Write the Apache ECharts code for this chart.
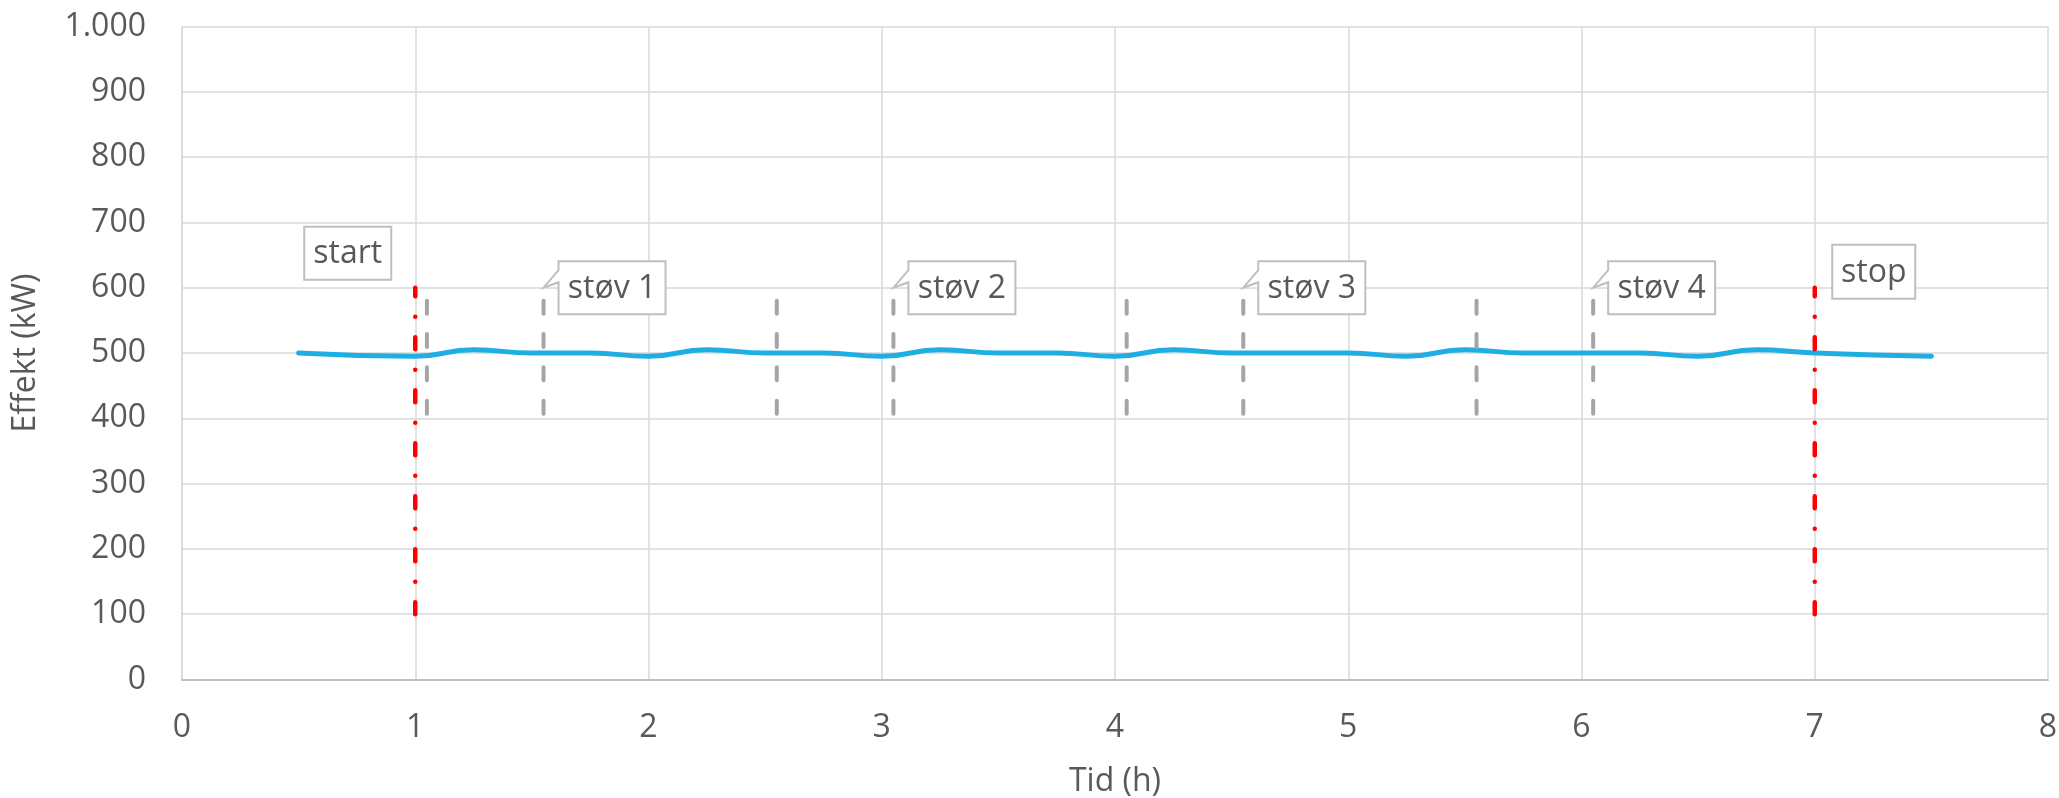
<!DOCTYPE html>
<html><head><meta charset="utf-8">
<script src="https://cdn.jsdelivr.net/npm/echarts@6/dist/echarts.min.js"></script>
<style>html,body{margin:0;padding:0;background:#fff}#c{width:2059px;height:798px}</style>
</head><body><div id="c"></div>
<script>
// ---- data ----
const timeH    = [0.5, 1, 1.25, 1.5, 1.75, 2, 2.25, 2.5, 2.75, 3, 3.25, 3.5, 3.75, 4, 4.25, 4.5, 4.75, 5, 5.25, 5.5, 5.75, 6, 6.25, 6.5, 6.75, 7, 7.5];
const effektKW = [500, 495, 505, 500, 500, 495, 505, 500, 500, 495, 505, 500, 500, 495, 505, 500, 500, 500, 495, 505, 500, 500, 500, 495, 505, 500, 495];
const startStopX = [1, 7];
const startStopRange = [100, 600];
const stovX = [1.05, 1.55, 2.55, 3.05, 4.05, 4.55, 5.55, 6.05];
const stovRange = [580, 400];
const calloutText = ['start', 'støv 1', 'støv 2', 'støv 3', 'støv 4', 'stop'];
const calloutX = [1, 1.55, 3.05, 4.55, 6.05, 7];
const calloutY = [600, 600, 600, 600, 600, 600];
const xAxisName = 'Tid (h)';
const yAxisName = 'Effekt (kW)';

// ---- layout / style ----
const calloutKind = ['left', 'tail', 'tail', 'tail', 'tail', 'right'];
const FONT = '"Open Sans", sans-serif';
const TXT = '#595959';
const ctx = document.createElement('canvas').getContext('2d');
ctx.font = '32px "Open Sans"';
const tw = s => ctx.measureText(s).width;

function renderCallout(params, api) {
  const i = api.value(2);
  const p = api.coord([api.value(0), api.value(1)]);
  const txt = calloutText[i];
  const w = Math.round(tw(txt) + 18);
  const kind = calloutKind[i];
  let L, T, H, pts;
  if (kind === 'tail') {
    L = p[0] + 15; T = p[1] - 26.5; H = 53;
    pts = [[L, T], [L + w, T], [L + w, T + H], [L, T + H], [L, T + 21], [p[0], p[1]], [L, T + 9]];
  } else {
    if (kind === 'left') { H = 53; L = p[0] - 24 - w; T = p[1] - 61; }
    else { H = 54; L = p[0] + 17.5; T = p[1] - 43; }
    pts = [[L, T], [L + w, T], [L + w, T + H], [L, T + H]];
  }
  return {
    type: 'group',
    children: [
      { type: 'polygon', shape: { points: pts }, style: { fill: '#fff', stroke: '#BFBFBF', lineWidth: 2 } },
      { type: 'text', style: { text: txt, x: L + w / 2, y: T + H / 2 + 1, align: 'center', verticalAlign: 'middle',
          fontSize: 32, fontFamily: FONT, fill: TXT } }
    ]
  };
}

const chart = echarts.init(document.getElementById('c'));
chart.setOption({
  animation: false,
  backgroundColor: '#fff',
  textStyle: { fontFamily: FONT },
  grid: { left: 182, right: 11, top: 26.5, bottom: 118.5, containLabel: false, outerBoundsMode: 'none' },
  xAxis: {
    type: 'value', min: 0, max: 8, interval: 1,
    name: xAxisName, nameLocation: 'middle', nameGap: 86,
    nameTextStyle: { fontSize: 32, color: TXT, fontFamily: FONT, lineHeight: 32 },
    axisLine: { show: true, lineStyle: { color: '#BFBFBF', width: 2 } },
    axisTick: { show: false },
    axisLabel: { fontSize: 32, color: TXT, margin: 32, lineHeight: 32, fontFamily: FONT },
    splitLine: { show: true, lineStyle: { color: '#D9D9D9', width: 1.5 } }
  },
  yAxis: {
    type: 'value', min: 0, max: 1000, interval: 100,
    name: yAxisName, nameLocation: 'middle', nameRotate: 90, nameGap: 140,
    nameTextStyle: { fontSize: 32, color: TXT, fontFamily: FONT, lineHeight: 32 },
    axisLine: { show: true, lineStyle: { color: '#D9D9D9', width: 1.5 } },
    axisTick: { show: false },
    axisLabel: { fontSize: 32, color: TXT, margin: 36, fontFamily: FONT,
      formatter: v => String(v).replace(/\B(?=(\d{3})+(?!\d))/g, '.') },
    splitLine: { show: true, lineStyle: { color: '#D9D9D9', width: 1.5 } }
  },
  series: [
    { type: 'line', data: timeH.map((t, i) => [t, effektKW[i]]), smooth: 0.5, symbol: 'none',
      lineStyle: { color: '#1FAEE3', width: 5, cap: 'round' }, z: 2 },
    ...stovX.map(x => ({ type: 'line', data: [[x, stovRange[0]], [x, stovRange[1]]], symbol: 'none', silent: true,
      lineStyle: { color: '#A5A5A5', width: 4, type: [13, 20.3], cap: 'round' }, z: 3 })),
    ...startStopX.map(x => ({ type: 'line', data: [[x, startStopRange[0]], [x, startStopRange[1]]], symbol: 'none', silent: true,
      lineStyle: { color: '#FF0000', width: 4.5, type: [12, 20.45, 0.1, 20.45], cap: 'round' }, z: 4 })),
    { type: 'custom', renderItem: renderCallout, clip: false, z: 10, silent: true,
      encode: { x: 0, y: 1 }, data: calloutX.map((x, i) => [x, calloutY[i], i]) }
  ]
});
</script>
</body></html>
